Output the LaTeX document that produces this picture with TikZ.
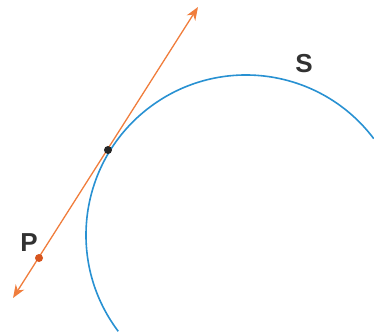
\documentclass[tikz,border=0pt]{standalone}
\usepackage{fontspec}
\setmainfont{Liberation Sans}
\usetikzlibrary{arrows.meta,calc}
\definecolor{arcblue}{RGB}{40,145,210}
\definecolor{lineorange}{RGB}{240,125,60}
\definecolor{porange}{RGB}{215,85,30}
\definecolor{txt}{RGB}{50,50,50}
\tikzset{
  curve/.style={draw=arcblue,line width=1.6pt},
  tangentline/.style={draw=lineorange,line width=1.3pt,
    {Stealth[length=13pt,width=10pt,inset=4pt]}-{Stealth[length=13pt,width=10pt,inset=4pt]}},
  dotnode/.style={circle,inner sep=0pt,minimum size=8pt},
  lbl/.style={font=\bfseries\fontsize{26}{28}\selectfont,text=txt,inner sep=0pt}
}
\begin{document}
\begin{tikzpicture}[x=1pt,y=-1pt]
\useasboundingbox (0,0) rectangle (374,336);
\coordinate (C) at (246,235);
\draw[curve] ($(C)+(37:160 and -160)$) arc[start angle=37,end angle=217,x radius=160,y radius=-160];
\coordinate (A) at (198,7);
\coordinate (B) at (13,298);
\draw[tangentline] (B) -- (A);
\node[dotnode,fill=black!85] (T) at (108,150) {};
\node[dotnode,fill=porange] (Pd) at (39,258) {};
\node[lbl] (P) at (29,243) {P};
\node[lbl] (S) at (304,64) {S};
\end{tikzpicture}
\end{document}
